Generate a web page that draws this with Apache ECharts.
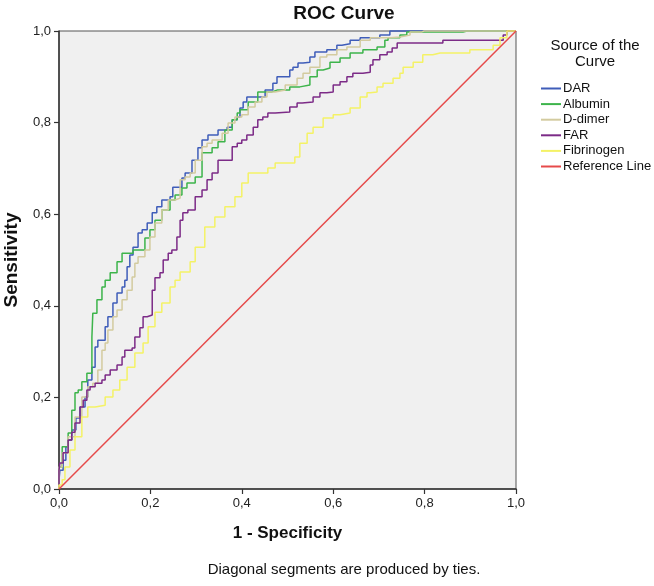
<!DOCTYPE html>
<html>
<head>
<meta charset="utf-8">
<script src="https://cdn.jsdelivr.net/npm/echarts@6/dist/echarts.min.js"></script>
<style>html,body{margin:0;padding:0;background:#fff;}#c{width:654px;height:586px;}</style>
</head>
<body>
<div id="c"></div>
<script>
// Tick labels
var xTickLabels = ['0,0','0,2','0,4','0,6','0,8','1,0'];
var yTickLabels = ['0,0','0,2','0,4','0,6','0,8','1,0'];
var seriesNames = ['DAR','Albumin','D-dimer','FAR','Fibrinogen','Reference Line'];

// DAR (1 - specificity, sensitivity)
var darX = [0,0.002,0.009,0.015,0.020,0.028,0.037,0.046,0.057,0.063,0.072,0.079,0.085,0.094,0.101,0.107,0.118,0.127,0.138,0.144,0.149,0.155,0.162,0.173,0.182,0.193,0.204,0.214,0.225,0.243,0.249,0.269,0.276,0.291,0.304,0.313,0.326,0.348,0.368,0.379,0.390,0.396,0.403,0.411,0.418,0.451,0.468,0.477,0.505,0.512,0.523,0.534,0.549,0.560,0.586,0.608,0.619,0.637,0.659,0.702,0.724,0.742,1];
var darY = [0,0.020,0.041,0.063,0.092,0.107,0.129,0.155,0.179,0.201,0.238,0.266,0.310,0.325,0.325,0.354,0.376,0.406,0.428,0.441,0.456,0.485,0.511,0.528,0.559,0.566,0.581,0.603,0.616,0.631,0.638,0.659,0.679,0.690,0.718,0.745,0.762,0.773,0.784,0.790,0.806,0.812,0.832,0.845,0.856,0.856,0.871,0.886,0.900,0.915,0.921,0.930,0.932,0.943,0.954,0.959,0.969,0.972,0.980,0.985,0.991,1,1];

// Albumin
var albX = [0,0,0.007,0.020,0.028,0.035,0.042,0.050,0.061,0.072,0.074,0.083,0.094,0.101,0.112,0.127,0.138,0.162,0.188,0.199,0.210,0.225,0.243,0.254,0.269,0.280,0.298,0.313,0.335,0.348,0.363,0.379,0.390,0.396,0.414,0.435,0.446,0.466,0.477,0.505,0.527,0.549,0.565,0.578,0.593,0.615,0.637,0.665,0.696,0.713,0.720,0.746,0.761,0.796,0.884,0.893,1];
var albY = [0,0.020,0.048,0.092,0.122,0.172,0.210,0.216,0.234,0.253,0.332,0.384,0.413,0.441,0.456,0.472,0.496,0.515,0.522,0.548,0.566,0.587,0.609,0.631,0.642,0.657,0.668,0.681,0.734,0.745,0.758,0.784,0.806,0.821,0.828,0.845,0.867,0.867,0.871,0.871,0.878,0.882,0.900,0.915,0.919,0.932,0.941,0.952,0.959,0.965,0.980,0.985,0.991,0.998,0.998,1,1];

// D-dimer
var ddX = [0,0.007,0.020,0.035,0.050,0.063,0.074,0.085,0.094,0.101,0.107,0.118,0.127,0.138,0.149,0.160,0.166,0.173,0.188,0.199,0.210,0.225,0.239,0.254,0.265,0.276,0.287,0.298,0.313,0.324,0.335,0.357,0.370,0.385,0.400,0.414,0.429,0.444,0.455,0.473,0.495,0.521,0.534,0.549,0.571,0.586,0.608,0.630,0.659,0.681,0.724,0.746,0.768,0.794,0.799,1];
var ddY = [0,0.048,0.079,0.114,0.157,0.201,0.223,0.231,0.260,0.303,0.319,0.347,0.376,0.391,0.413,0.434,0.463,0.493,0.507,0.522,0.550,0.581,0.609,0.631,0.635,0.675,0.681,0.690,0.718,0.747,0.755,0.762,0.777,0.799,0.812,0.817,0.834,0.845,0.856,0.867,0.871,0.882,0.897,0.908,0.921,0.943,0.948,0.959,0.965,0.980,0.985,0.987,0.991,0.998,1,1];

// FAR
var farX = [0,0,0.002,0.009,0.020,0.028,0.035,0.046,0.053,0.061,0.068,0.079,0.094,0.101,0.112,0.127,0.138,0.144,0.160,0.166,0.177,0.184,0.193,0.204,0.210,0.221,0.228,0.239,0.247,0.258,0.265,0.271,0.282,0.298,0.313,0.324,0.335,0.348,0.359,0.379,0.390,0.400,0.411,0.425,0.435,0.446,0.457,0.473,0.505,0.521,0.532,0.556,0.571,0.586,0.600,0.615,0.630,0.643,0.665,0.681,0.687,0.702,0.718,0.729,0.740,0.751,0.840,0.845,0.972,0.980,1];
var farY = [0,0.020,0.041,0.057,0.079,0.107,0.124,0.144,0.179,0.194,0.216,0.223,0.231,0.238,0.249,0.260,0.271,0.288,0.303,0.308,0.332,0.352,0.376,0.380,0.434,0.461,0.472,0.500,0.515,0.522,0.550,0.587,0.603,0.609,0.638,0.653,0.675,0.690,0.718,0.718,0.747,0.755,0.762,0.773,0.790,0.806,0.812,0.821,0.823,0.834,0.843,0.845,0.856,0.865,0.867,0.882,0.889,0.900,0.908,0.910,0.926,0.937,0.948,0.954,0.963,0.974,0.974,0.980,0.980,0.991,1];

// Fibrinogen
var fibX = [0,0.007,0.013,0.024,0.035,0.050,0.063,0.079,0.101,0.118,0.133,0.149,0.166,0.184,0.195,0.210,0.225,0.243,0.254,0.265,0.287,0.298,0.319,0.341,0.363,0.385,0.400,0.414,0.429,0.457,0.473,0.495,0.516,0.527,0.543,0.556,0.578,0.600,0.615,0.637,0.659,0.674,0.681,0.696,0.709,0.731,0.746,0.753,0.775,0.796,0.818,0.834,0.899,0.915,0.950,0.965,0.980,1];
var fibY = [0,0.009,0.020,0.048,0.085,0.114,0.157,0.179,0.183,0.201,0.216,0.238,0.266,0.297,0.319,0.354,0.386,0.406,0.441,0.456,0.474,0.496,0.528,0.572,0.594,0.616,0.638,0.668,0.690,0.690,0.701,0.712,0.712,0.725,0.755,0.777,0.790,0.810,0.817,0.821,0.832,0.856,0.865,0.867,0.878,0.886,0.897,0.908,0.921,0.932,0.948,0.952,0.952,0.959,0.959,0.969,0.985,1];

// Reference line
var refX = [0,1];
var refY = [0,1];

var colors = ['#3f5db9','#3db44b','#d3cb9f','#7c2b87','#f4f266','#e64a4a'];

function pairs(xs, ys){ return xs.map(function(x,i){ return [x, ys[i]]; }); }

var allX = [darX, albX, ddX, farX, fibX, refX];
var allY = [darY, albY, ddY, farY, fibY, refY];

var series = seriesNames.map(function(name, i){
  var isRef = (i === 5);
  return {
    name: name,
    type: 'line',
    data: pairs(allX[i], allY[i]),
    step: isRef ? false : 'start',
    showSymbol: false,
    symbol: 'none',
    clip: false,
    lineStyle: { color: colors[i], width: 1.5 },
    itemStyle: { color: colors[i] },
    emphasis: { disabled: true },
    z: 2 + i
  };
});

var chart = echarts.init(document.getElementById('c'), null, { renderer: 'canvas' });
var FONT = 'Liberation Sans, Arial, sans-serif';
chart.setOption({
  animation: false,
  backgroundColor: '#ffffff',
  textStyle: { fontFamily: FONT },
  grid: {
    left: 59, top: 31, width: 457, height: 458,
    containLabel: false, outerBoundsMode: 'none',
    show: true, backgroundColor: '#f0f0f0', borderColor: '#555555', borderWidth: 1
  },
  xAxis: {
    type: 'value', min: 0, max: 1, interval: 0.2,
    name: '1 - Specificity', nameLocation: 'middle', nameGap: 36,
    nameTextStyle: { fontSize: 17, fontWeight: 'bold', color: '#111', fontFamily: FONT },
    axisLine: { show: true, lineStyle: { color: '#333', width: 1.5 } },
    axisTick: { show: true, length: 5, lineStyle: { color: '#333', width: 1.2 } },
    axisLabel: { fontSize: 13, color: '#222', margin: 8, fontFamily: FONT,
      formatter: function(v){ return xTickLabels[Math.round(v / 0.2)]; } },
    splitLine: { show: false }
  },
  yAxis: {
    type: 'value', min: 0, max: 1, interval: 0.2,
    name: 'Sensitivity', nameLocation: 'middle', nameGap: 38,
    nameTextStyle: { fontSize: 19, fontWeight: 'bold', color: '#111', fontFamily: FONT },
    axisLine: { show: true, lineStyle: { color: '#333', width: 1.5 } },
    axisTick: { show: true, length: 5, lineStyle: { color: '#333', width: 1.2 } },
    axisLabel: { fontSize: 13, color: '#222', margin: 8, fontFamily: FONT,
      formatter: function(v){ return yTickLabels[Math.round(v / 0.2)]; } },
    splitLine: { show: false }
  },
  legend: {
    orient: 'vertical',
    left: 536, top: 77,
    itemWidth: 20, itemHeight: 2, itemGap: 2.6,
    icon: 'rect',
    selectedMode: false,
    data: seriesNames,
    textStyle: { fontSize: 13, color: '#111', lineHeight: 13, padding: [0,0,0,-3], fontFamily: FONT }
  },
  graphic: [
    { type: 'text', x: 344, y: 14, silent: true,
      style: { text: 'ROC Curve', fontSize: 19, fontWeight: 'bold', fill: '#111', align: 'center', verticalAlign: 'middle', fontFamily: FONT } },
    { type: 'text', x: 595, y: 54, silent: true,
      style: { text: 'Source of the\nCurve', fontSize: 15, lineHeight: 16, fill: '#111', align: 'center', verticalAlign: 'middle', fontFamily: FONT } },
    { type: 'text', x: 344, y: 570, silent: true,
      style: { text: 'Diagonal segments are produced by ties.', fontSize: 15, fill: '#111', align: 'center', verticalAlign: 'middle', fontFamily: FONT } }
  ],
  series: series
});
</script>
</body>
</html>
